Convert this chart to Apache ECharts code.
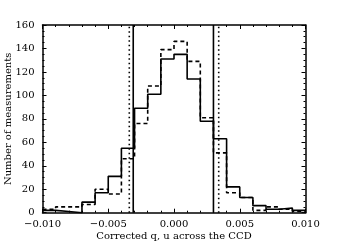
<!DOCTYPE html>
<html><head><meta charset="utf-8">
<script src="https://cdn.jsdelivr.net/npm/echarts@6/dist/echarts.min.js"></script>
<style>html,body{margin:0;padding:0;background:#fff}#c{width:339px;height:250px}</style>
</head><body><div id="c"></div>
<script>
var binLeft = [-0.010,-0.009,-0.008,-0.007,-0.006,-0.005,-0.004,-0.003,-0.002,-0.001,0.000,0.001,0.002,0.003,0.004,0.005,0.006,0.007,0.008,0.009];
var binRightEnd = 0.010;
var solidCounts = [2,1,0,9,17,31,55,89,101,131,135,114,78,63,22,13,6,3,4,2];
var dashedCounts = [3,5,5,7,20,16,46,76,108,139,146,129,81,51,17,13,2,5,3,1];
var solidCuts = [-0.0031, 0.0030];
var dottedCuts = [-0.0034, 0.0034];
var xTicks = [-0.010,-0.005,0.000,0.005,0.010];
var xTickLabels = ['\u22120.010','\u22120.005','0.000','0.005','0.010'];
var yTicks = [0,20,40,60,80,100,120,140,160];

function stepData(counts){
  var d = binLeft.map(function(x,i){return [x,counts[i]];});
  d.push([binRightEnd, counts[counts.length-1]]);
  return d;
}
function vline(x, type){
  return {type:'line', data:[[x,yTicks[0]],[x,yTicks[yTicks.length-1]]], symbol:'none', silent:true,
    lineStyle:{color:'#000', width:1.6, type:type}, xAxisIndex:0, yAxisIndex:0, z:3};
}
var FONT = 'DejaVu Serif';
var FS = 10;
var axisCommon = {
  axisLine:{show:true, onZero:false, lineStyle:{color:'#000', width:1.5}},
  axisTick:{show:true, inside:true, length:4, lineStyle:{color:'#000', width:1}},
  minorTick:{show:true, length:2, lineStyle:{color:'#000', width:1}},
  splitLine:{show:false}
};
function ax(base, extra){ return Object.assign({}, JSON.parse(JSON.stringify(base)), extra); }

var chart = echarts.init(document.getElementById('c'), null, {renderer:'canvas'});
var option = {
  animation:false,
  backgroundColor:'#fff',
  grid:{left:42.5, right:33.5, top:25, bottom:37.3, containLabel:false, outerBoundsMode:'none'},
  xAxis:[
    ax(axisCommon, {type:'value', position:'bottom', min:xTicks[0], max:xTicks[xTicks.length-1], interval:0.005,
      minorTick:{show:true, splitNumber:5, length:2, lineStyle:{color:'#000', width:1}},
      axisLabel:{show:true, fontFamily:FONT, fontSize:FS, color:'#000', margin:7,
        formatter:function(v){var i=xTicks.findIndex(function(t){return Math.abs(t-v)<1e-9;}); return i>=0?xTickLabels[i]:'';}},
      name:'Corrected q, u across the CCD', nameLocation:'middle', nameGap:19, nameMoveOverlap:false,
      nameTextStyle:{fontFamily:FONT, fontSize:FS, color:'#000'}}),
    ax(axisCommon, {type:'value', position:'top', min:xTicks[0], max:xTicks[xTicks.length-1], interval:0.005,
      minorTick:{show:true, splitNumber:5, length:2, lineStyle:{color:'#000', width:1}},
      axisLabel:{show:false}})
  ],
  yAxis:[
    ax(axisCommon, {type:'value', position:'left', min:yTicks[0], max:yTicks[yTicks.length-1], interval:20,
      minorTick:{show:true, splitNumber:4, length:2, lineStyle:{color:'#000', width:1}},
      axisLabel:{show:true, fontFamily:FONT, fontSize:FS, color:'#000', margin:8},
      name:'Number of measurements', nameLocation:'middle', nameGap:29, nameRotate:90, nameMoveOverlap:false,
      nameTextStyle:{fontFamily:FONT, fontSize:FS, color:'#000'}}),
    ax(axisCommon, {type:'value', position:'right', min:yTicks[0], max:yTicks[yTicks.length-1], interval:20,
      minorTick:{show:true, splitNumber:4, length:2, lineStyle:{color:'#000', width:1}},
      axisLabel:{show:false}})
  ],
  series:[
    {type:'line', step:'end', data:stepData(dashedCounts), symbol:'none', silent:true,
      lineStyle:{color:'#000', width:1.6, type:[4,3]}, z:2},
    {type:'line', step:'end', data:stepData(solidCounts), symbol:'none', silent:true,
      lineStyle:{color:'#000', width:1.6, type:'solid'}, z:4},
    vline(solidCuts[0],'solid'), vline(solidCuts[1],'solid'),
    vline(dottedCuts[0],[1.5,3]), vline(dottedCuts[1],[1.5,3])
  ]
};
chart.setOption(option);
</script></body></html>
